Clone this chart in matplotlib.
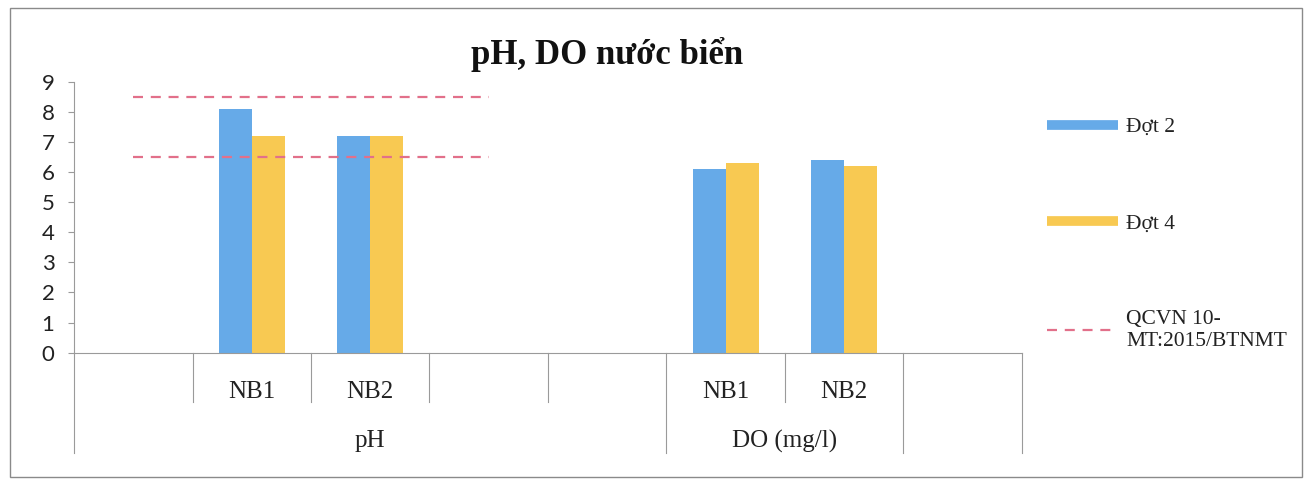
import numpy as np
import matplotlib
matplotlib.use("Agg")
import matplotlib.pyplot as plt
from matplotlib.lines import Line2D
from matplotlib.patches import Rectangle
import matplotlib.transforms as mtransforms

# ---- data ----
categories = ['', 'NB1', 'NB2', '', '', 'NB1', 'NB2', '']
groups = ['pH', 'DO (mg/l)', '']
group_sizes = [5, 2, 1]
dot2 = [np.nan, 8.1, 7.2, np.nan, np.nan, 6.1, 6.4, np.nan]
dot4 = [np.nan, 7.2, 7.2, np.nan, np.nan, 6.3, 6.2, np.nan]
qcvn_upper = [8.5, 8.5, 8.5, 8.5, np.nan, np.nan, np.nan, np.nan]
qcvn_lower = [6.5, 6.5, 6.5, 6.5, np.nan, np.nan, np.nan, np.nan]
series_names = ['Đợt 2', 'Đợt 4', 'QCVN 10-\nMT:2015/BTNMT']
title = 'pH, DO nước biển'
yticks = list(range(0, 10))

BLUE = '#66AAE8'
YELLOW = '#F8C952'
RED = '#E2708A'
GRID = '#9A9A9A'
SERIF = 'Liberation Serif'
TXT = '#222222'

fig = plt.figure(figsize=(13.14, 4.79), dpi=100)
W, H = 1314, 479
Y0, Y9 = 352.7, 81.7
ax = fig.add_axes([74 / W, 1 - Y0 / H, (1022 - 74) / W, (Y0 - Y9) / H])

x = np.arange(len(categories))
bw = 0.28
ax.bar(x - bw / 2, dot2, width=bw, color=BLUE, zorder=2)
ax.bar(x + bw / 2, dot4, width=bw, color=YELLOW, zorder=2)
ax.plot(x, qcvn_upper, color=RED, lw=1.6, dashes=(4.5, 3.5), zorder=3)
ax.plot(x, qcvn_lower, color=RED, lw=1.6, dashes=(4.5, 3.5), zorder=3)

ax.set_xlim(-0.5, len(categories) - 0.5)
ax.set_ylim(0, 9)
ax.set_yticks(yticks)
ax.set_yticklabels([str(v) for v in yticks], fontfamily='Lato', fontsize=16, color=TXT)
ax.tick_params(axis='y', length=4, width=0.8, color=GRID, pad=10)
ax.set_xticks([])
for s in ['top', 'right']:
    ax.spines[s].set_visible(False)
for s in ['left', 'bottom']:
    ax.spines[s].set_color(GRID)
    ax.spines[s].set_linewidth(0.8)

# multi-level category axis
trans = mtransforms.blended_transform_factory(ax.transData, ax.transAxes)
def ay(py):
    return -(py - Y0) / (Y0 - Y9)
short_y, full_y = ay(402), ay(453)
label1_y, label2_y = ay(392), ay(441)

group_edges = np.cumsum([0] + group_sizes) - 0.5
for i, c in enumerate(categories):
    ax.text(i, label1_y, c, transform=trans, ha='center', va='center',
            fontfamily=SERIF, fontsize=18, color=TXT)
for b in np.arange(len(categories) + 1) - 0.5:
    yb = full_y if np.any(np.isclose(b, group_edges)) else short_y
    ax.plot([b, b], [0, yb], transform=trans, color=GRID, lw=0.8, clip_on=False)
for gi, g in enumerate(groups):
    c = (group_edges[gi] + group_edges[gi + 1]) / 2
    ax.text(c, label2_y, g, transform=trans, ha='center', va='center',
            fontfamily=SERIF, fontsize=18, color=TXT)

fig.text(607 / W, 1 - 55 / H, title, ha='center', va='center',
         fontfamily=SERIF, fontweight='bold', fontsize=25, color='#111111')

handles = [Line2D([], [], color=BLUE, lw=7, solid_capstyle='butt'),
           Line2D([], [], color=YELLOW, lw=7, solid_capstyle='butt'),
           Line2D([], [], color=RED, lw=1.6, dashes=(4.5, 3.5))]
leg = fig.legend(handles, series_names, loc='upper left',
                 bbox_to_anchor=(1047 / W, 1 - 117 / H), frameon=False,
                 prop={'family': SERIF, 'size': 15.5}, handlelength=3.3,
                 handletextpad=0.37, labelspacing=3.55, labelcolor=TXT,
                 borderpad=0, borderaxespad=0)

fig.patches.append(Rectangle((10 / W, 1 - 477 / H), (1302 - 10) / W, (477 - 8) / H,
                             transform=fig.transFigure, fill=False,
                             edgecolor='#8A8A8A', lw=1.0))

fig.savefig('out.png', dpi=100, facecolor='white')
